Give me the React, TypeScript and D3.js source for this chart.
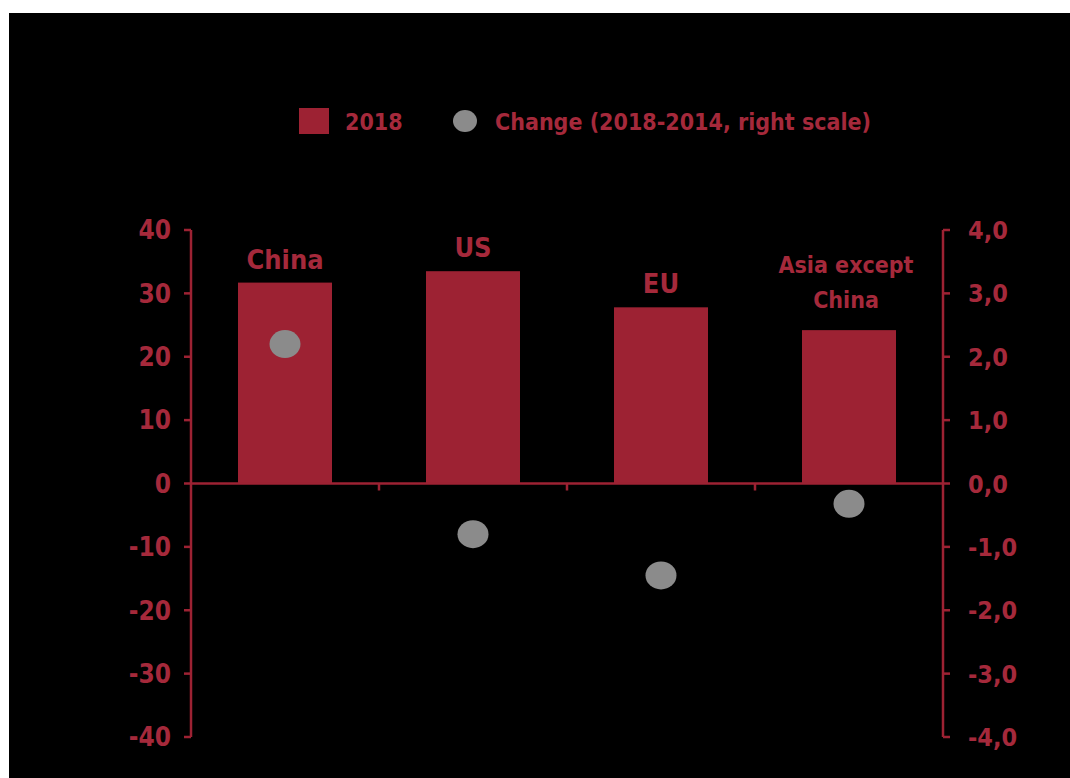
import React from "react";
import * as d3 from "d3";

const categories = ["China", "US", "EU", "Asia except China"];
const categoryLines = [["China"], ["US"], ["EU"], ["Asia except", "China"]];
const values2018 = [31.7, 33.5, 27.8, 24.2];
const change = [2.2, -0.8, -1.45, -0.32];
const leftTicks = [40, 30, 20, 10, 0, -10, -20, -30, -40];
const rightTicks = [4, 3, 2, 1, 0, -1, -2, -3, -4];
const legendLabels = ["2018", "Change (2018-2014, right scale)"];

const W = 1070;
const H = 778;
const RED = "#9d2233";
const TXT = "#a5293b";
const GREY = "#8b8b8b";
const FONT = "'DejaVu Sans Condensed', 'DejaVu Sans', sans-serif";

export default function App() {
  const xL = 191;
  const xR = 943;
  const x = d3.scaleBand<string>().domain(categories).range([xL, xR]).paddingInner(0.5).paddingOuter(0.25);
  const yL = d3.scaleLinear().domain([-40, 40]).range([737, 230]);
  const yR = d3.scaleLinear().domain([-4, 4]).range([737, 230]);
  const bw = x.bandwidth();
  const step = x.step();
  const fmtR = (v: number) => d3.format(".1f")(v).replace(".", ",").replace("−", "-");

  return (
    <svg width={W} height={H} style={{ position: "absolute", left: 0, top: 0 }} fontFamily={FONT}>
      <rect x={0} y={0} width={W} height={H} fill="#fff" />
      <rect x={9} y={13} width={W - 9} height={H - 13} fill="#000" />

      {/* legend */}
      <rect x={299} y={108} width={30} height={26} fill={RED} />
      <text x={345} y={129.5} fill={TXT} fontSize={23} fontWeight="bold">{legendLabels[0]}</text>
      <ellipse cx={465} cy={121} rx={12} ry={11} fill={GREY} />
      <text x={495} y={129.5} fill={TXT} fontSize={23} fontWeight="bold">{legendLabels[1]}</text>

      {/* bars */}
      {categories.map((c, i) => (
        <rect key={c} x={x(c)} y={yL(Math.max(0, values2018[i]))} width={bw}
          height={Math.abs(yL(values2018[i]) - yL(0))} fill={RED} />
      ))}

      {/* category labels */}
      {categories.map((c, i) => {
        const lines = categoryLines[i];
        const multi = lines.length > 1;
        const cx = (x(c) as number) + bw / 2 + (multi ? -3 : 0);
        const base = yL(values2018[i]) - (multi ? 22 : 14);
        return (
          <text key={c} x={cx} textAnchor="middle" fill={TXT} fontSize={multi ? 23 : 27} fontWeight="bold">
            {lines.map((l, j) => (
              <tspan key={j} x={cx} y={base - (lines.length - 1 - j) * 35}>{l}</tspan>
            ))}
          </text>
        );
      })}

      {/* x axis */}
      <line x1={xL} x2={xR} y1={yL(0)} y2={yL(0)} stroke={RED} strokeWidth={2.5} />
      {categories.slice(1).map((c) => (
        <line key={c} x1={(x(c) as number) - (step - bw) / 2} x2={(x(c) as number) - (step - bw) / 2}
          y1={yL(0)} y2={yL(0) + 7} stroke={RED} strokeWidth={2.5} />
      ))}

      {/* left axis */}
      <line x1={xL} x2={xL} y1={yL(40)} y2={yL(-40)} stroke={RED} strokeWidth={2.5} />
      {leftTicks.map((t) => (
        <g key={t}>
          <line x1={xL - 7} x2={xL} y1={yL(t)} y2={yL(t)} stroke={RED} strokeWidth={2.5} />
          <text x={171} y={yL(t)} dy="0.36em" textAnchor="end" fill={TXT} fontSize={26} fontWeight="bold">
            {String(t)}
          </text>
        </g>
      ))}

      {/* right axis */}
      <line x1={xR} x2={xR} y1={yR(4)} y2={yR(-4)} stroke={RED} strokeWidth={2.5} />
      {rightTicks.map((t) => (
        <g key={t}>
          <line x1={xR} x2={xR + 7} y1={yR(t)} y2={yR(t)} stroke={RED} strokeWidth={2.5} />
          <text x={968} y={yR(t)} dy="0.36em" textAnchor="start" fill={TXT} fontSize={25} fontWeight="bold">
            {fmtR(t)}
          </text>
        </g>
      ))}

      {/* change dots */}
      {categories.map((c, i) => (
        <ellipse key={c} cx={(x(c) as number) + bw / 2} cy={yR(change[i])} rx={15.5} ry={14} fill={GREY} />
      ))}
    </svg>
  );
}
